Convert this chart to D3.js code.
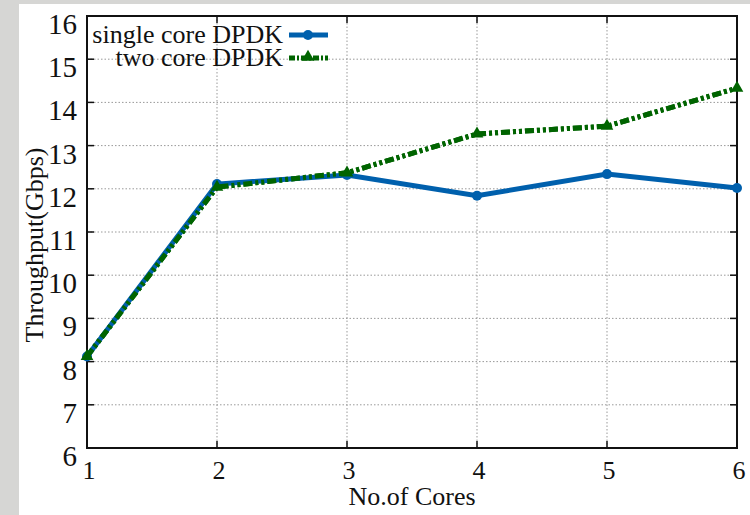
<!DOCTYPE html>
<html>
<head>
<meta charset="utf-8">
<script src="https://cdn.jsdelivr.net/npm/d3@7"></script>
<style>
  body { margin: 0; background: #d6d6d4; }
  svg { display: block; }
  text { font-family: "Liberation Serif", "DejaVu Serif", serif; fill: #111; }
</style>
</head>
<body>
<div id="chart"></div>
<script>
const cores = [1, 2, 3, 4, 5, 6];
const singleCore = [8.12, 12.11, 12.32, 11.84, 12.34, 12.02];
const twoCore = [8.12, 12.04, 12.37, 13.27, 13.45, 14.33];
const yTicks = [6, 7, 8, 9, 10, 11, 12, 13, 14, 15, 16];
const seriesNames = ['single core DPDK', 'two core DPDK'];

const width = 750, height = 515;
const margin = { top: 16, right: 13, bottom: 67, left: 87 };

const svg = d3.select('#chart').append('svg')
    .attr('width', width)
    .attr('height', height);

// white page over the grey photo backdrop
svg.append('rect')
    .attr('x', 19).attr('y', 4)
    .attr('width', width - 19).attr('height', height - 4)
    .attr('fill', '#fff');

const x = d3.scaleLinear().domain([1, 6]).range([margin.left, width - margin.right]);
const y = d3.scaleLinear().domain([6, 16]).range([height - margin.bottom, margin.top]);

// grid
const grid = svg.append('g').attr('stroke', '#999').attr('stroke-width', 1).attr('stroke-dasharray', '1.5,2');
grid.selectAll('.gy').data(yTicks.slice(1, -1)).join('line')
    .attr('x1', x(1)).attr('x2', x(6))
    .attr('y1', d => y(d)).attr('y2', d => y(d));
grid.selectAll('.gx').data(cores.slice(1, -1)).join('line')
    .attr('y1', y(6)).attr('y2', y(16))
    .attr('x1', d => x(d)).attr('x2', d => x(d));

// mirrored inner ticks
const tk = svg.append('g').attr('stroke', '#111').attr('stroke-width', 1.5);
yTicks.forEach(v => {
  tk.append('line').attr('x1', x(1)).attr('x2', x(1) + 7).attr('y1', y(v)).attr('y2', y(v));
  tk.append('line').attr('x1', x(6)).attr('x2', x(6) - 7).attr('y1', y(v)).attr('y2', y(v));
});
cores.forEach(v => {
  tk.append('line').attr('x1', x(v)).attr('x2', x(v)).attr('y1', y(6)).attr('y2', y(6) - 7);
  tk.append('line').attr('x1', x(v)).attr('x2', x(v)).attr('y1', y(16)).attr('y2', y(16) + 7);
});

// frame
svg.append('rect')
    .attr('x', x(1)).attr('y', y(16))
    .attr('width', x(6) - x(1)).attr('height', y(6) - y(16))
    .attr('fill', 'none').attr('stroke', '#111').attr('stroke-width', 2);

// tick labels
svg.append('g').selectAll('text').data(yTicks).join('text')
    .attr('x', x(1) - 10)
    .attr('y', d => y(d) + 18)
    .attr('text-anchor', 'end')
    .attr('font-size', 29)
    .text(d => d);
svg.append('g').selectAll('text').data(cores).join('text')
    .attr('x', d => x(d) + 2)
    .attr('y', y(6) + 31)
    .attr('text-anchor', 'middle')
    .attr('font-size', 26)
    .text(d => d);

// axis titles
svg.append('text')
    .attr('x', (x(1) + x(6)) / 2)
    .attr('y', 505)
    .attr('text-anchor', 'middle')
    .attr('font-size', 26)
    .text('No.of Cores');
svg.append('text')
    .attr('transform', `translate(43,${(y(6) + y(16)) / 2 + 13}) rotate(-90)`)
    .attr('text-anchor', 'middle')
    .attr('font-size', 26)
    .text('Throughput(Gbps)');

const line = d3.line().x((d, i) => x(cores[i])).y(d => y(d));
const blue = '#0060ad', green = '#006400';
const greenDash = '9,3,3,3,3,3';

// two core
svg.append('path').datum(twoCore)
    .attr('d', line).attr('fill', 'none')
    .attr('stroke', green).attr('stroke-width', 5)
    .attr('stroke-dasharray', greenDash);
// single core
svg.append('path').datum(singleCore)
    .attr('d', line).attr('fill', 'none')
    .attr('stroke', blue).attr('stroke-width', 5);
svg.append('g').selectAll('circle').data(singleCore).join('circle')
    .attr('cx', (d, i) => x(cores[i])).attr('cy', d => y(d))
    .attr('r', 5).attr('fill', blue);
// redraw two core on top where it runs over the blue line
svg.append('path').datum(twoCore)
    .attr('d', line).attr('fill', 'none')
    .attr('stroke', green).attr('stroke-width', 5)
    .attr('stroke-dasharray', greenDash);
const tri = d3.symbol().type(d3.symbolTriangle).size(70);
svg.append('g').selectAll('path').data(twoCore).join('path')
    .attr('d', tri)
    .attr('transform', (d, i) => `translate(${x(cores[i])},${y(d)})`)
    .attr('fill', green);

// legend
const leg = svg.append('g');
seriesNames.forEach((name, i) => {
  const ly = 35 + i * 23;
  leg.append('text')
      .attr('x', 283).attr('y', ly + 8)
      .attr('text-anchor', 'end')
      .attr('font-size', 26)
      .text(name);
  leg.append('line')
      .attr('x1', 289).attr('x2', 328)
      .attr('y1', ly).attr('y2', ly)
      .attr('stroke', i === 0 ? blue : green)
      .attr('stroke-width', 5)
      .attr('stroke-dasharray', i === 0 ? null : '6,2,2,2');
  if (i === 0) {
    leg.append('circle').attr('cx', 308).attr('cy', ly).attr('r', 5).attr('fill', blue);
  } else {
    leg.append('path').attr('d', tri).attr('transform', `translate(308,${ly - 1})`).attr('fill', green);
  }
});
</script>
</body>
</html>
